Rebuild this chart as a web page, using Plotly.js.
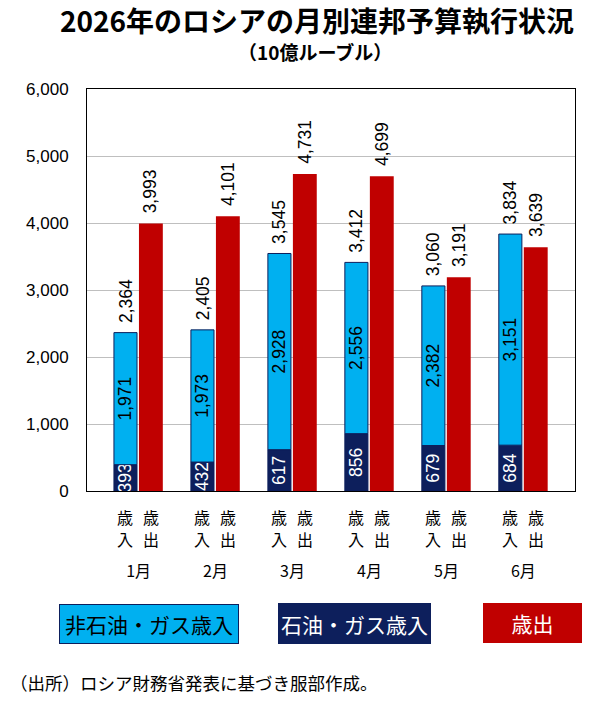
<!DOCTYPE html>
<html><head><meta charset="utf-8">
<script src="https://cdn.plot.ly/plotly-3.0.1.min.js"></script>
<style>html,body{margin:0;padding:0;background:#fff}#chart{width:600px;height:706px}</style>
</head><body><div id="chart"></div>
<script>
const months = ['1月','2月','3月','4月','5月','6月'];
const oilGasRevenue = [393, 432, 617, 856, 679, 684];
const nonOilGasRevenue = [1971, 1973, 2928, 2556, 2382, 3151];
const totalRevenue = [2364, 2405, 3545, 3412, 3060, 3834];
const expenditure = [3993, 4101, 4731, 4699, 3191, 3639];
const yTicks = [0, 1000, 2000, 3000, 4000, 5000, 6000];
const seriesNames = ['非石油・ガス歳入', '石油・ガス歳入', '歳出'];
const revenueSubLabel = ['歳', '入'];
const expenditureSubLabel = ['歳', '出'];
const titleText = '2026年のロシアの月別連邦予算執行状況';
const subtitleText = '（10億ルーブル）';
const sourceText = '（出所）ロシア財務省発表に基づき服部作成。';

const NAVY = '#0D1F5C', LIGHT = '#00B0F0', RED = '#C00000';
const NUM = 'Liberation Sans, Arial, sans-serif';
const JP = 'Noto Sans CJK JP, sans-serif';
const NUMSIZE = 17.5;
const fmt = v => v.toLocaleString('en-US');

const REV_OFF = -0.32, REV_W = 0.30, EXP_OFF = 0.005, EXP_W = 0.31;
const revC = REV_OFF + REV_W / 2, expC = EXP_OFF + EXP_W / 2;

const common = {type: 'bar', x: months, textposition: 'inside', textangle: -90,
  insidetextanchor: 'middle', constraintext: 'none', hoverinfo: 'skip'};

const traces = [
  Object.assign({}, common, {name: seriesNames[1], y: oilGasRevenue, offset: REV_OFF, width: REV_W,
    marker: {color: NAVY, line: {color: NAVY, width: 1}},
    text: oilGasRevenue.map(fmt), textfont: {family: NUM, size: NUMSIZE, color: '#ffffff'}}),
  Object.assign({}, common, {name: seriesNames[0], y: nonOilGasRevenue, base: oilGasRevenue, offset: REV_OFF, width: REV_W,
    marker: {color: LIGHT, line: {color: NAVY, width: 1}},
    text: nonOilGasRevenue.map(fmt), textfont: {family: NUM, size: NUMSIZE, color: '#000000'}}),
  Object.assign({}, common, {name: seriesNames[2], y: expenditure, offset: EXP_OFF, width: EXP_W,
    marker: {color: RED, line: {width: 0}}, text: [], textposition: 'none'})
];

// plot area pixel geometry
const L = 87, R = 25, T = 89, B = 215, W = 600, H = 706;
const pw = W - L - R, ph = H - T - B;
const px = x => (x - L) / pw;
const py = y => (H - B - y) / ph;

const annotations = [];
const sub = (x, ch, shift) => ({x: x, y: 0, xref: 'x', yref: 'paper', text: ch, showarrow: false,
  xanchor: 'center', yanchor: 'middle', yshift: shift, borderpad: 0,
  font: {family: JP, size: 16, color: '#000'}});
months.forEach((m, i) => {
  annotations.push({x: i + revC, y: totalRevenue[i], xref: 'x', yref: 'y', text: fmt(totalRevenue[i]),
    textangle: -90, showarrow: false, xanchor: 'center', yanchor: 'bottom', yshift: 9, borderpad: 0,
    font: {family: NUM, size: NUMSIZE, color: '#000'}});
  annotations.push({x: i + expC, y: expenditure[i], xref: 'x', yref: 'y', text: fmt(expenditure[i]),
    textangle: -90, showarrow: false, xanchor: 'center', yanchor: 'bottom', yshift: 9, borderpad: 0,
    font: {family: NUM, size: NUMSIZE, color: '#000'}});
  annotations.push(sub(i + revC, revenueSubLabel[0], -(517 - 491)));
  annotations.push(sub(i + revC, revenueSubLabel[1], -(539 - 491)));
  annotations.push(sub(i + expC, expenditureSubLabel[0], -(517 - 491)));
  annotations.push(sub(i + expC, expenditureSubLabel[1], -(539 - 491)));
});

// legend boxes
const legendBoxes = [
  {text: seriesNames[0], cx: 149, cy: 624, w: 180, h: 40, bg: LIGHT, border: NAVY, color: '#000'},
  {text: seriesNames[1], cx: 354.5, cy: 623.5, w: 153, h: 41, bg: NAVY, border: NAVY, color: '#fff'},
  {text: seriesNames[2], cx: 532, cy: 623, w: 99, h: 40, bg: RED, border: RED, color: '#fff'}
];
legendBoxes.forEach(b => annotations.push({
  x: px(b.cx), y: py(b.cy), xref: 'paper', yref: 'paper', text: b.text, showarrow: false,
  xanchor: 'center', yanchor: 'middle', width: b.w - 2, height: b.h - 2, borderpad: 0, borderwidth: 1,
  bordercolor: b.border, bgcolor: b.bg, align: 'center', valign: 'middle',
  font: {family: JP, size: 21, color: b.color}}));

annotations.push({x: px(315), y: py(52), xref: 'paper', yref: 'paper', text: '<b>' + subtitleText + '</b>',
  showarrow: false, xanchor: 'center', yanchor: 'middle', font: {family: JP, size: 19, color: '#000'}});
annotations.push({x: px(8), y: py(682), xref: 'paper', yref: 'paper', text: sourceText,
  showarrow: false, xanchor: 'left', yanchor: 'middle', font: {family: JP, size: 17.5, color: '#000'}});

const layout = {
  width: W, height: H, margin: {l: L, r: R, t: T, b: B, pad: 0},
  paper_bgcolor: '#fff', plot_bgcolor: '#fff', showlegend: false, barmode: 'overlay',
  title: {text: '<b>' + titleText + '</b>', x: 317 / W, xanchor: 'center', xref: 'container',
    y: 1 - 22.5 / H, yanchor: 'middle', yref: 'container', font: {family: JP, size: 28, color: '#000'}},
  xaxis: {type: 'category', range: [-0.67, 5.67], showgrid: false, showline: true, mirror: true,
    linecolor: '#000', linewidth: 1, ticks: '', ticklabelstandoff: 66, automargin: false,
    tickfont: {family: JP, size: 16, color: '#000'}, fixedrange: true},
  yaxis: {range: [0, 6000], tickvals: yTicks, tickformat: ',', showgrid: true, gridcolor: '#BFBFBF',
    gridwidth: 1, zeroline: false, showline: true, mirror: true, linecolor: '#000', linewidth: 1,
    ticks: '', ticklabelstandoff: 14, automargin: false, tickfont: {family: NUM, size: 17, color: '#000'},
    fixedrange: true},
  annotations: annotations
};

Plotly.newPlot('chart', traces, layout, {staticPlot: true, displayModeBar: false});
</script></body></html>
